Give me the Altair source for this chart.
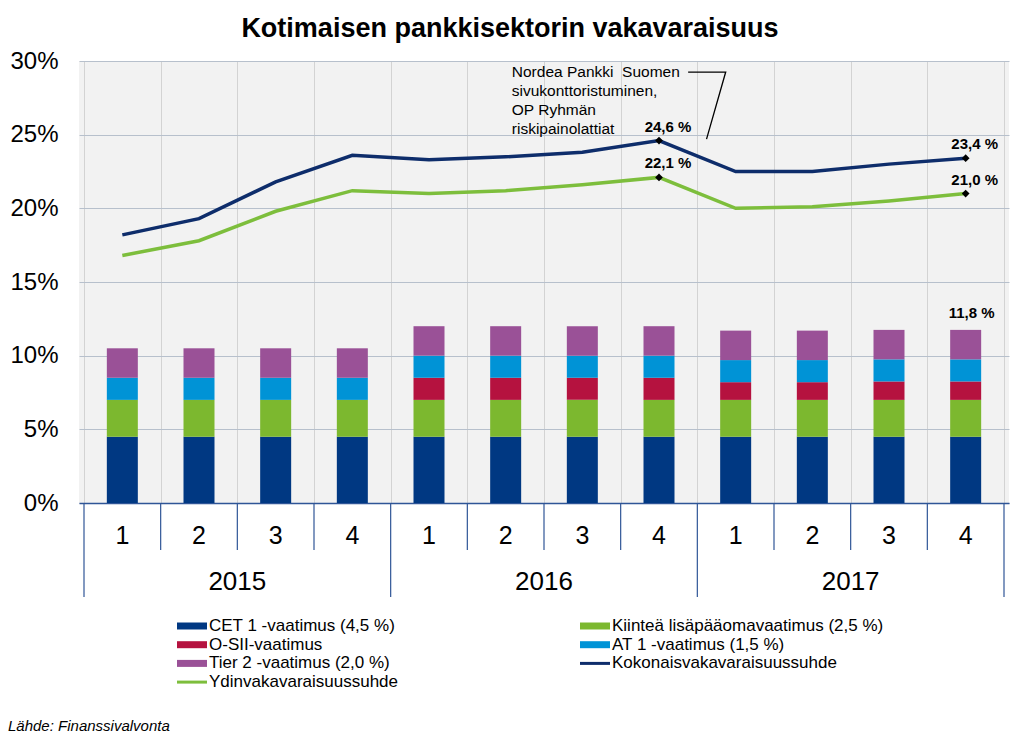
import altair as alt
import pandas as pd

TITLE = "Kotimaisen pankkisektorin vakavaraisuus"
SOURCE = "Lähde: Finanssivalvonta"
YEARS = ["2015", "2016", "2017"]
QUARTERS = ["1", "2", "3", "4"]

# stacked requirement components (percent)
COMP_NAMES = ["CET 1 -vaatimus (4,5 %)", "Kiinteä lisäpääomavaatimus (2,5 %)",
              "O-SII-vaatimus", "AT 1 -vaatimus (1,5 %)", "Tier 2 -vaatimus (2,0 %)"]
CET1 = [4.5, 4.5, 4.5, 4.5, 4.5, 4.5, 4.5, 4.5, 4.5, 4.5, 4.5, 4.5]
KIINTEA = [2.5, 2.5, 2.5, 2.5, 2.5, 2.5, 2.5, 2.5, 2.5, 2.5, 2.5, 2.5]
OSII = [0.0, 0.0, 0.0, 0.0, 1.5, 1.5, 1.5, 1.5, 1.2, 1.2, 1.25, 1.25]
AT1 = [1.5, 1.5, 1.5, 1.5, 1.5, 1.5, 1.5, 1.5, 1.5, 1.5, 1.5, 1.5]
TIER2 = [2.0, 2.0, 2.0, 2.0, 2.0, 2.0, 2.0, 2.0, 2.0, 2.0, 2.0, 2.0]

LINE_NAMES = ["Kokonaisvakavaraisuussuhde", "Ydinvakavaraisuussuhde"]
TOTAL_RATIO = [18.2, 19.3, 21.8, 23.6, 23.3, 23.5, 23.8, 24.6, 22.5, 22.5, 23.0, 23.4]
CORE_RATIO = [16.8, 17.8, 19.8, 21.2, 21.0, 21.2, 21.6, 22.1, 20.0, 20.1, 20.5, 21.0]
MARKED = [7, 11]

ANNOTATION = ["Nordea Pankki\u00a0 Suomen", "sivukonttoristuminen,", "OP Ryhmän", "riskipainolattiat"]

COMP_COLORS = ["#003882", "#7CB82F", "#B5123F", "#0093D6", "#9A5197"]
LINE_COLORS = ["#0E2D6B", "#7DBE3C"]
FONT = "Liberation Sans"

W, H = 930, 442
N = len(YEARS) * len(QUARTERS)

xscale = alt.Scale(domain=[0, N], nice=False, zero=False)
yscale = alt.Scale(domain=[0, 30], nice=False)
XAXIS = alt.Axis(values=list(range(N + 1)), grid=True, gridColor="#D3D3D3", gridWidth=1,
                 labels=False, ticks=False, domain=True, domainColor="#2F5597",
                 domainWidth=1.5, title=None)
YAXIS = alt.Axis(values=[0, 5, 10, 15, 20, 25, 30], grid=True, gridColor="#B7C0CC",
                 gridWidth=1.2, labelExpr="datum.value + '%'", labelFontSize=24,
                 labelColor="black", labelFont=FONT, ticks=False, domain=False,
                 labelPadding=21, title=None)


def X(field="x"):
    return alt.X(f"{field}:Q", scale=xscale, axis=XAXIS)


def Y(field="v", stack=None):
    if stack:
        return alt.Y(f"{field}:Q", scale=yscale, axis=YAXIS, stack=stack)
    return alt.Y(f"{field}:Q", scale=yscale, axis=YAXIS)


def fmt(v):
    return f"{v:.1f}".replace(".", ",") + " %"


# ---- bars
series = [CET1, KIINTEA, OSII, AT1, TIER2]
bar_rows = []
for i in range(N):
    for k, name in enumerate(COMP_NAMES):
        bar_rows.append({"x": i + 0.5, "comp": name, "ord": k, "v": series[k][i]})
bar_df = pd.DataFrame(bar_rows)

bars = alt.Chart(bar_df).mark_bar(width=31).encode(
    x=X(), y=Y(stack="zero"),
    color=alt.Color("comp:N", scale=alt.Scale(domain=COMP_NAMES, range=COMP_COLORS), legend=None),
    order=alt.Order("ord:Q"),
)

totals = [sum(s[i] for s in series) for i in range(N)]
bar_label_df = pd.DataFrame([{"x": N - 0.5, "v": totals[-1], "t": fmt(totals[-1])}])
bar_label = alt.Chart(bar_label_df).mark_text(
    font=FONT, fontSize=15, fontWeight="bold", dy=-17, dx=6, color="black"
).encode(x=X(), y=Y(), text="t:N")

# ---- lines
layers = [bars, bar_label]
for name, vals, col in zip(LINE_NAMES, [TOTAL_RATIO, CORE_RATIO], LINE_COLORS):
    ldf = pd.DataFrame({"x": [i + 0.5 for i in range(N)], "v": vals})
    layers.append(alt.Chart(ldf).mark_line(color=col, strokeWidth=3.5).encode(x=X(), y=Y()))
    mdf = pd.DataFrame([{"x": i + 0.5, "v": vals[i], "t": fmt(vals[i])} for i in MARKED])
    layers.append(alt.Chart(mdf).mark_point(shape="diamond", filled=True, color="black",
                                            size=60, opacity=1).encode(x=X(), y=Y()))
    layers.append(alt.Chart(mdf).mark_text(font=FONT, fontSize=15, fontWeight="bold",
                                           dy=-14, dx=9, color="black")
                  .encode(x=X(), y=Y(), text="t:N"))

# ---- annotation
ann_df = pd.DataFrame([{"x": 5.58, "v": 29.25, "t": ANNOTATION}])
layers.append(alt.Chart(ann_df).mark_text(font=FONT, fontSize=15.5, align="left",
                                          baseline="middle", lineHeight=19, color="black")
              .encode(x=X(), y=Y(), text="t"))
lead_df = pd.DataFrame({"x": [7.88, 8.37, 8.12], "v": [29.25, 29.25, 24.7], "o": [0, 1, 2]})
layers.append(alt.Chart(lead_df).mark_line(color="black", strokeWidth=1.3)
              .encode(x=X(), y=Y(), order="o:Q"))

# ---- two-level category axis
AXIS_BLUE = "#2F5597"
q_df = pd.DataFrame([{"x": i + 0.5, "t": QUARTERS[i % 4]} for i in range(N)])
layers.append(alt.Chart(q_df).mark_text(font=FONT, fontSize=25, color="black", baseline="middle")
              .encode(x=X(), y=alt.value(H + 33), text="t:N"))
y_df = pd.DataFrame([{"x": 4 * j + 2, "t": YEARS[j]} for j in range(len(YEARS))])
layers.append(alt.Chart(y_df).mark_text(font=FONT, fontSize=26, color="black", baseline="middle")
              .encode(x=X(), y=alt.value(H + 79), text="t:N"))
qsep_df = pd.DataFrame({"x": [i for i in range(1, N) if i % 4 != 0]})
layers.append(alt.Chart(qsep_df).mark_rule(color=AXIS_BLUE, strokeWidth=1.2)
              .encode(x=X(), y=alt.value(H), y2=alt.value(H + 47)))
ysep_df = pd.DataFrame({"x": [i for i in range(0, N + 1) if i % 4 == 0]})
layers.append(alt.Chart(ysep_df).mark_rule(color=AXIS_BLUE, strokeWidth=1.2)
              .encode(x=X(), y=alt.value(H), y2=alt.value(H + 94)))

# ---- title and source
one = alt.Data(values=[{"a": 1}])
layers.append(alt.Chart(one).mark_text(text=TITLE, font=FONT, fontSize=27, fontWeight="bold",
                                       align="center", baseline="alphabetic", color="black")
              .encode(x=alt.value(431), y=alt.value(-24)))
layers.append(alt.Chart(one).mark_text(text=SOURCE, font=FONT, fontSize=15, fontStyle="italic",
                                       align="left", baseline="alphabetic", color="black")
              .encode(x=alt.value(-71), y=alt.value(670)))

# ---- legend (row-major, two columns)
LEG_NAMES = COMP_NAMES + LINE_NAMES
LEG_COLORS = COMP_COLORS + LINE_COLORS
LEG_KIND = ["bar"] * len(COMP_NAMES) + ["line"] * len(LINE_NAMES)
for idx, (nm, colr, kind) in enumerate(zip(LEG_NAMES, LEG_COLORS, LEG_KIND)):
    col, row = idx % 2, idx // 2
    lx = 98 + col * 403
    ly = 565 + row * 18.7
    if kind == "bar":
        layers.append(alt.Chart(one).mark_rect(color=colr).encode(
            x=alt.value(lx), x2=alt.value(lx + 30), y=alt.value(ly - 3.5), y2=alt.value(ly + 3.5)))
    else:
        layers.append(alt.Chart(one).mark_rule(color=colr, strokeWidth=3).encode(
            x=alt.value(lx), x2=alt.value(lx + 30), y=alt.value(ly)))
    layers.append(alt.Chart(one).mark_text(text=nm, font=FONT, fontSize=17, align="left",
                                           baseline="middle", color="black")
                  .encode(x=alt.value(lx + 32), y=alt.value(ly)))

chart = alt.layer(*layers).properties(
    width=W, height=H,
    autosize=alt.AutoSizeParams(type="none"),
    padding={"left": 71, "top": 53, "right": 7, "bottom": 233},
    background="white",
).configure_view(fill="#F2F2F2", stroke=None)

chart.save("out.html", embed_options={"renderer": "svg", "actions": False})
